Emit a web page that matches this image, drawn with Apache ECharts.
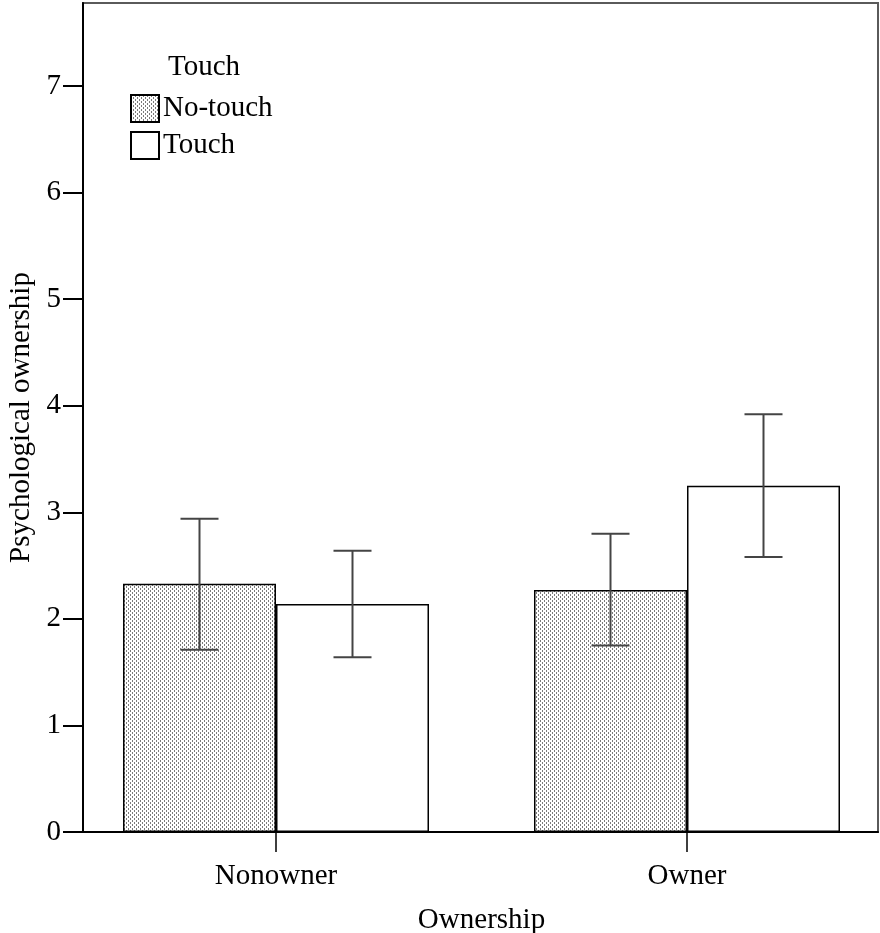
<!DOCTYPE html>
<html>
<head>
<meta charset="utf-8">
<script src="https://cdn.jsdelivr.net/npm/echarts@6/dist/echarts.min.js"></script>
<style>html,body{margin:0;padding:0;background:#fff;}#c{width:880px;height:933px;}</style>
</head>
<body>
<div id="c"></div>
<script>
// ---- data ----
const categories = ['Nonowner', 'Owner'];
const seriesNames = ['No-touch', 'Touch'];
const noTouchMean = [2.33, 2.27];
const noTouchLow  = [1.71, 1.75];
const noTouchHigh = [2.94, 2.80];
const touchMean = [2.14, 3.25];
const touchLow  = [1.64, 2.58];
const touchHigh = [2.64, 3.92];
const yTicks = [0, 1, 2, 3, 4, 5, 6, 7];

// ---- pattern ----
function makePattern() {
  const c = document.createElement('canvas');
  c.width = 4; c.height = 4;
  const g = c.getContext('2d');
  g.fillStyle = '#ffffff'; g.fillRect(0, 0, 4, 4);
  g.fillStyle = '#7a7a7a';
  g.fillRect(0, 0, 1, 2);
  g.fillRect(2, 2, 1, 2);
  return c;
}
const pattern = { image: makePattern(), repeat: 'repeat' };

const FONT = 'Liberation Serif';
const FS = 29;
const chart = echarts.init(document.getElementById('c'), null, { renderer: 'canvas' });

function errData(low, high) {
  return categories.map((c, i) => [i, low[i], high[i]]);
}
function errSeries(name, low, high, dir) {
  return {
    type: 'custom', name: name + ' err', xAxisIndex: 1, yAxisIndex: 1, z: 10,
    silent: true,
    data: errData(low, high),
    renderItem: function (params, api) {
      const lo = api.coord([api.value(0), api.value(1)]);
      const hi = api.coord([api.value(0), api.value(2)]);
      const x = lo[0] + dir * 76.5;
      const cap = 19;
      const st = { stroke: '#444', lineWidth: 2 };
      return {
        type: 'group',
        children: [
          { type: 'line', shape: { x1: x, y1: lo[1], x2: x, y2: hi[1] }, style: st },
          { type: 'line', shape: { x1: x - cap, y1: lo[1], x2: x + cap, y2: lo[1] }, style: st },
          { type: 'line', shape: { x1: x - cap, y1: hi[1], x2: x + cap, y2: hi[1] }, style: st }
        ]
      };
    }
  };
}

const option = {
  backgroundColor: '#fff',
  animation: false,
  textStyle: { fontFamily: FONT },
  title: {
    text: 'Touch', left: 168, top: 53, padding: 0,
    textStyle: { fontFamily: FONT, fontSize: FS, fontWeight: 'normal', color: '#000' }
  },
  legend: {
    data: seriesNames, orient: 'vertical', left: 130, top: 94, padding: 0,
    itemWidth: 28, itemHeight: 27, itemGap: 8, icon: 'rect',
    textStyle: { fontFamily: FONT, fontSize: FS, color: '#000', padding: [6, 0, 0, -1] }
  },
  grid: [
    { left: 83, right: 2, top: 3, bottom: 101, outerBoundsMode: 'none', containLabel: false,
      show: true, borderColor: '#5a5a5a', borderWidth: 2, backgroundColor: 'transparent' },
    { left: 70.5, width: 822, top: 3, bottom: 101, outerBoundsMode: 'none', containLabel: false }
  ],
  xAxis: [
    { type: 'value', gridIndex: 0, min: 0, max: 1,
      axisLine: { show: true, lineStyle: { color: '#000', width: 2 } },
      axisTick: { show: false }, axisLabel: { show: false }, splitLine: { show: false } },
    {
      type: 'category', gridIndex: 1, data: categories,
      axisLine: { show: false },
      axisTick: { show: true, alignWithLabel: true, length: 20, lineStyle: { color: '#000', width: 1.5 } },
      axisLabel: { fontFamily: FONT, fontSize: FS, color: '#000', margin: 30 },
      name: 'Ownership', nameLocation: 'middle', nameGap: 74,
      nameTextStyle: { fontFamily: FONT, fontSize: FS, color: '#000' }
    }
  ],
  yAxis: [
    {
      type: 'value', gridIndex: 0, min: 0, max: 7.78, interval: 1,
      splitLine: { show: false },
      axisLine: { show: true, lineStyle: { color: '#000', width: 2 } },
      axisTick: { show: true, length: 20, customValues: yTicks, lineStyle: { color: '#000', width: 2 } },
      axisLabel: {
        fontFamily: FONT, fontSize: FS, color: '#000', margin: 22, customValues: yTicks,
        formatter: v => (yTicks.indexOf(v) >= 0 ? String(v) : '')
      },
      name: 'Psychological ownership', nameLocation: 'middle', nameGap: 47, nameRotate: 90,
      nameTextStyle: { fontFamily: FONT, fontSize: FS, color: '#000' }
    },
    { type: 'value', gridIndex: 1, min: 0, max: 7.78, interval: 1, show: false }
  ],
  series: [
    {
      type: 'bar', name: seriesNames[0], xAxisIndex: 1, yAxisIndex: 1,
      data: noTouchMean, barWidth: 153, barGap: '0%',
      itemStyle: { color: pattern, borderColor: '#000', borderWidth: 1.5 }
    },
    {
      type: 'bar', name: seriesNames[1], xAxisIndex: 1, yAxisIndex: 1,
      data: touchMean, barWidth: 153, barGap: '0%',
      itemStyle: { color: '#fff', borderColor: '#000', borderWidth: 1.5 }
    },
    errSeries('No-touch', noTouchLow, noTouchHigh, -1),
    errSeries('Touch', touchLow, touchHigh, 1)
  ]
};
chart.setOption(option);
</script>
</body>
</html>
